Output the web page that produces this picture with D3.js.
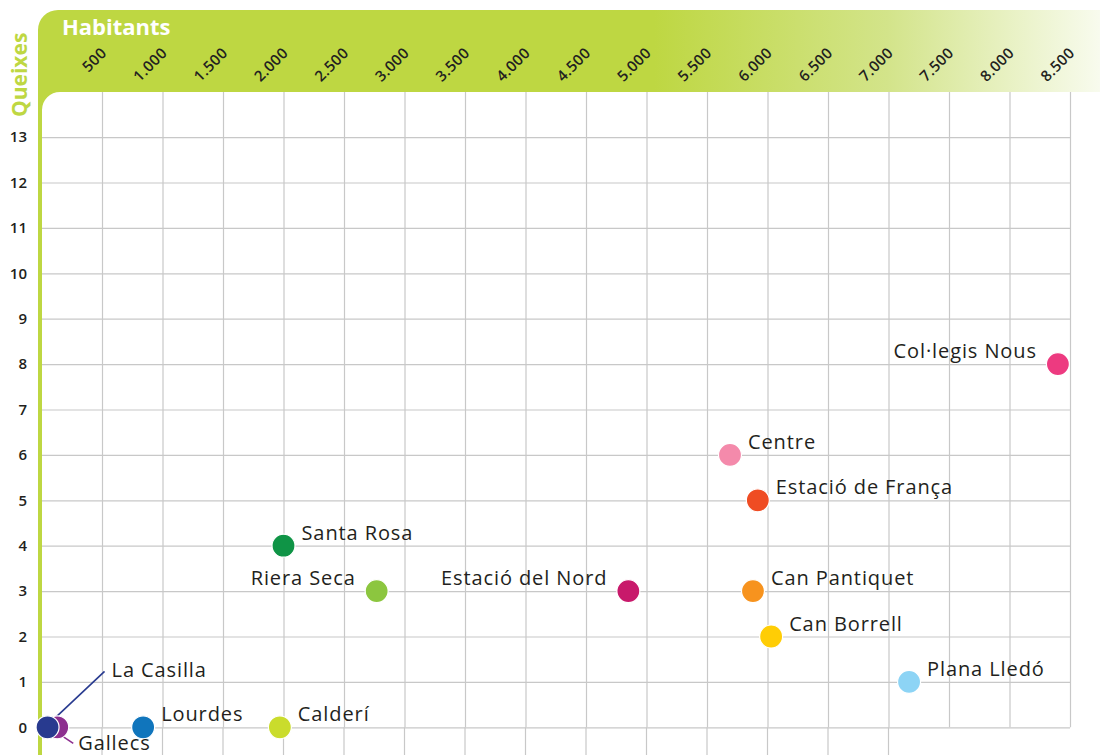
<!DOCTYPE html>
<html>
<head>
<meta charset="utf-8">
<script src="https://cdn.jsdelivr.net/npm/d3@7"></script>
<style>
  body { margin: 0; background: #fff; }
  svg { display: block; }
  .grid line { stroke: #c8c8c8; stroke-width: 1.2; }
  .grid .domain { display: none; }
</style>
</head>
<body>
<div class="chart"></div>
<script>
// complaints per neighbourhood vs inhabitants
var barris = ["Gallecs", "La Casilla", "Lourdes", "Calderí", "Santa Rosa", "Riera Seca", "Estació del Nord",
    "Centre", "Estació de França", "Can Pantiquet", "Can Borrell", "Plana Lledó", "Col·legis Nous"];
var habitants = [130, 50, 840, 1970, 2000, 2770, 4850, 5690, 5920, 5880, 6030, 7170, 8400];
var queixes = [0, 0, 0, 0, 4, 3, 3, 6, 5, 3, 2, 1, 8];
var colors = ["#8d2f8f", "#283a8f", "#1075bc", "#cadc2c", "#0f9446", "#8cc63f", "#c8196b",
    "#f48aab", "#ef4c23", "#f7931e", "#ffcd05", "#8dd4f5", "#ed3a80"];
var side = ["gallecs", "casilla", "right", "right", "right", "left", "left",
    "right", "right", "right", "right", "right", "left"];
var xTicks = [500, 1000, 1500, 2000, 2500, 3000, 3500, 4000, 4500, 5000, 5500, 6000, 6500, 7000, 7500, 8000, 8500];
var yTicks = [0, 1, 2, 3, 4, 5, 6, 7, 8, 9, 10, 11, 12, 13];

var width = 1100, height = 755;
var green = "#bed742";
var dark = "#231f20";
var font = "'Open Sans', sans-serif";

var x = d3.scaleLinear().domain([0, 8500]).range([41.5, 1070]);
var y = d3.scaleLinear().domain([0, 14]).range([727.3, 91.7]);

var svg = d3.select(".chart").append("svg")
    .attr("width", width)
    .attr("height", height);

var grad = svg.append("defs").append("linearGradient")
    .attr("id", "hdr")
    .attr("x1", 0).attr("x2", 1).attr("y1", 0).attr("y2", 0);
grad.append("stop").attr("offset", "0").attr("stop-color", green);
grad.append("stop").attr("offset", "0.58").attr("stop-color", green);
grad.append("stop").attr("offset", "0.8").attr("stop-color", "#d3e48a");
grad.append("stop").attr("offset", "1").attr("stop-color", "#f8fbee");

// gridlines
svg.append("g")
    .attr("class", "grid")
    .attr("transform", "translate(0," + y(0) + ")")
    .call(d3.axisBottom(x)
        .tickValues(xTicks)
        .tickSize(-(y(0) - y(14)))
        .tickFormat(""));

// below zero the vertical lines run on to the page edge
svg.append("g")
    .attr("class", "grid")
    .selectAll("line")
    .data(xTicks.filter(function (d) { return d < 7500; }))
    .enter().append("line")
    .attr("x1", function (d) { return x(d); })
    .attr("x2", function (d) { return x(d); })
    .attr("y1", y(0))
    .attr("y2", height);

svg.append("g")
    .attr("class", "grid")
    .attr("transform", "translate(42,0)")
    .call(d3.axisLeft(y)
        .tickValues(yTicks)
        .tickSize(-(x(8500) - 42))
        .tickFormat(""));

// green header with the left bar
svg.append("path")
    .attr("d", "M38," + height + " V30 A20,20 0 0 1 58,10 H" + width + " V92 H60 A18,18 0 0 0 42,110 V" + height + " Z")
    .attr("fill", "url(#hdr)");

svg.append("text")
    .attr("x", 62)
    .attr("y", 35)
    .style("font-family", font)
    .style("font-weight", "bold")
    .style("font-size", "22px")
    .attr("fill", "#fff")
    .text("Habitants");

svg.append("text")
    .attr("transform", "translate(27,117) rotate(-90)")
    .style("font-family", font)
    .style("font-weight", "bold")
    .style("font-size", "21px")
    .attr("fill", green)
    .text("Queixes");

var loc = d3.formatLocale({ decimal: ",", thousands: ".", grouping: [3], currency: ["", "€"] });

var xAxis = svg.append("g")
    .attr("transform", "translate(0,54)")
    .call(d3.axisTop(x)
        .tickValues(xTicks)
        .tickSize(0)
        .tickFormat(loc.format(",")));
xAxis.select(".domain").remove();
xAxis.selectAll("text")
    .attr("x", 0).attr("y", 0).attr("dy", 0)
    .attr("transform", "translate(5,0) rotate(-45)")
    .attr("text-anchor", "end")
    .style("font-family", font)
    .style("font-size", "15px")
    .style("font-weight", "600")
    .style("letter-spacing", "0.4px")
    .attr("fill", dark);

var yAxis = svg.append("g")
    .attr("transform", "translate(30,0)")
    .call(d3.axisLeft(y)
        .tickValues(yTicks)
        .tickSize(0));
yAxis.select(".domain").remove();
yAxis.selectAll("text")
    .style("font-family", font)
    .style("font-size", "15px")
    .style("font-weight", "600")
    .attr("fill", dark);

// leader lines for the two points stuck on the origin
var pts = barris.map(function (b, i) {
    return { name: b, cx: x(habitants[i]), cy: y(queixes[i]), color: colors[i], side: side[i] };
});

pts.forEach(function (d) {
    if (d.side == "casilla") {
        svg.append("line")
            .attr("x1", d.cx + 6).attr("y1", d.cy - 8)
            .attr("x2", d.cx + 57).attr("y2", d.cy - 56)
            .attr("stroke", d.color).attr("stroke-width", 1.6);
    }
    if (d.side == "gallecs") {
        svg.append("line")
            .attr("x1", d.cx + 4).attr("y1", d.cy + 8)
            .attr("x2", d.cx + 16).attr("y2", d.cy + 16)
            .attr("stroke", d.color).attr("stroke-width", 1.6);
    }
});

svg.selectAll(".dot")
    .data(pts)
    .enter().append("circle")
    .attr("class", "dot")
    .attr("cx", function (d) { return d.cx; })
    .attr("cy", function (d) { return d.cy; })
    .attr("r", 11.5)
    .attr("fill", function (d) { return d.color; })
    .attr("stroke", "#fff")
    .attr("stroke-width", 1.2);

svg.selectAll(".lbl")
    .data(pts)
    .enter().append("text")
    .attr("class", "lbl")
    .attr("x", function (d) {
        if (d.side == "left") return d.cx - 21;
        if (d.side == "casilla") return d.cx + 64;
        if (d.side == "gallecs") return d.cx + 21;
        return d.cx + 18;
    })
    .attr("y", function (d) {
        if (d.side == "casilla") return d.cy - 57;
        if (d.side == "gallecs") return d.cy + 16;
        return d.cy - 13;
    })
    .attr("dy", "0.35em")
    .attr("text-anchor", function (d) { return d.side == "left" ? "end" : "start"; })
    .style("font-family", font)
    .style("font-size", "20px")
    .style("font-weight", "500")
    .style("letter-spacing", "0.9px")
    .attr("fill", dark)
    .text(function (d) { return d.name; });
</script>
</body>
</html>
